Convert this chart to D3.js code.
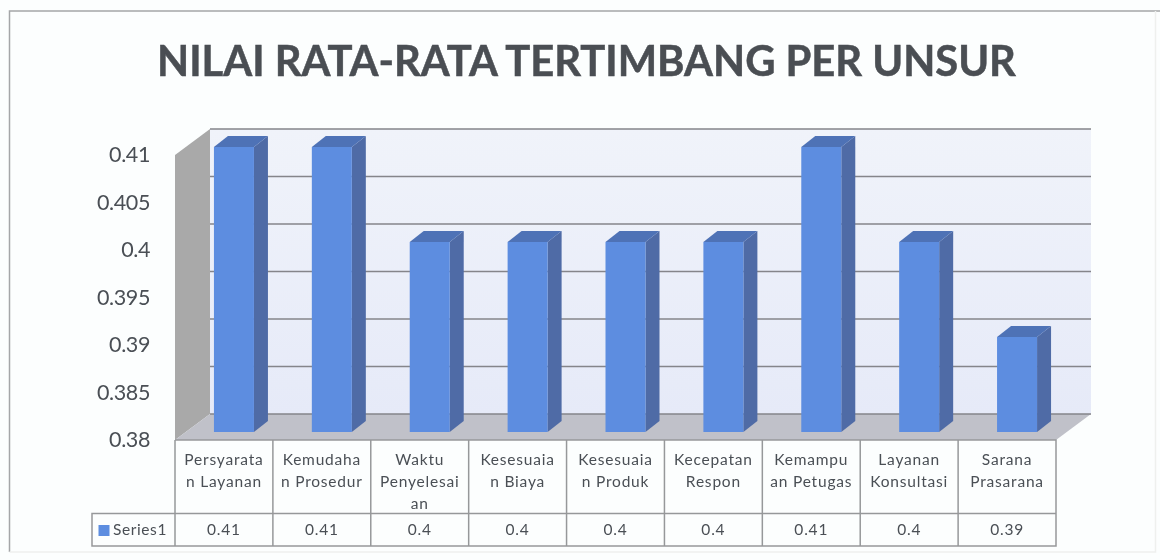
<!DOCTYPE html>
<html>
<head>
<meta charset="utf-8">
<script src="https://cdn.jsdelivr.net/npm/d3@7"></script>
<style>
    html, body { margin: 0; padding: 0; background: #fff; }
    svg { display: block; filter: blur(0.6px); }
</style>
</head>
<body>
<div id="app"></div>
<script>
const categories = [
    ['Persyarata', 'n Layanan'],
    ['Kemudaha', 'n Prosedur'],
    ['Waktu', 'Penyelesai', 'an'],
    ['Kesesuaia', 'n Biaya'],
    ['Kesesuaia', 'n Produk'],
    ['Kecepatan', 'Respon'],
    ['Kemampu', 'an Petugas'],
    ['Layanan', 'Konsultasi'],
    ['Sarana', 'Prasarana'],
];
const values = [0.41, 0.41, 0.4, 0.4, 0.4, 0.4, 0.41, 0.4, 0.39];
const yTicks = [0.38, 0.385, 0.39, 0.395, 0.4, 0.405, 0.41];
const seriesName = 'Series1';
const title = 'NILAI RATA-RATA TERTIMBANG PER UNSUR';

const width = 1160;
const height = 560;
const font = 'Lato, "Open Sans", sans-serif';
const ink = '#4a4f55';
const gridColor = '#85858a';

// 3D look: the back wall sits up and to the right of the front plane
const depth = { x: 35, y: -26 };
const barDepth = { x: 14, y: -11 };
const barShift = { x: 17, y: -8 };

const svg = d3.select('#app').append('svg')
    .attr('width', width)
    .attr('height', height)
    .attr('viewBox', `0 0 ${width} ${height}`)
    .style('background-color', '#fcfefe');

const defs = svg.append('defs');
const wallGrad = defs.append('linearGradient')
    .attr('id', 'wall')
    .attr('x1', 0).attr('y1', 0).attr('x2', 0).attr('y2', 1);
wallGrad.append('stop').attr('offset', '0%').attr('stop-color', '#f0f3fa');
wallGrad.append('stop').attr('offset', '100%').attr('stop-color', '#e6eaf8');

const xScale = d3.scaleBand()
    .domain(d3.range(categories.length))
    .range([175, 1056]);

const yScale = d3.scaleLinear()
    .domain([0.38, 0.41])
    .range([440, 155]);

const x0 = xScale.range()[0];
const x1 = xScale.range()[1];
const yBase = yScale(0.38);
const yTop = yScale(0.41);

// Chart frame, right and bottom edges are nearly lost in the scan
svg.append('path')
    .attr('d', 'M9.5,552V11H1160')
    .attr('fill', 'none')
    .attr('stroke', '#a4a6a8')
    .attr('stroke-width', 1.5);
svg.append('path')
    .attr('d', 'M9.5,552H1155.5V11')
    .attr('fill', 'none')
    .attr('stroke', '#eef0ee')
    .attr('stroke-width', 1.5);

// Title
svg.append('text')
    .attr('x', 586.5)
    .attr('y', 76)
    .attr('text-anchor', 'middle')
    .attr('font-family', font)
    .attr('font-weight', 700)
    .attr('font-size', '41.7px')
    .attr('fill', '#4a4e53')
    .attr('stroke', '#4a4e53')
    .attr('stroke-width', 0.5)
    .text(title);

// Back wall
svg.append('rect')
    .attr('x', x0 + depth.x)
    .attr('y', yTop + depth.y)
    .attr('width', x1 - x0)
    .attr('height', yBase - yTop)
    .attr('fill', 'url(#wall)');

// Left wall
svg.append('path')
    .attr('d', d3.line()([
        [x0, yTop], [x0 + depth.x, yTop + depth.y],
        [x0 + depth.x, yBase + depth.y], [x0, yBase],
    ]) + 'Z')
    .attr('fill', '#a9a9a9');

// Floor
svg.append('path')
    .attr('d', d3.line()([
        [x0, yBase], [x1, yBase],
        [x1 + depth.x, yBase + depth.y], [x0 + depth.x, yBase + depth.y],
    ]) + 'Z')
    .attr('fill', '#c0c1c9');

// Gridlines
svg.append('g')
    .selectAll('line')
    .data(yTicks)
    .join('line')
    .attr('x1', x0 + depth.x)
    .attr('x2', x1 + depth.x)
    .attr('y1', d => yScale(d) + depth.y)
    .attr('y2', d => yScale(d) + depth.y)
    .attr('stroke', gridColor)
    .attr('stroke-width', 1.5);

// Bars
const barWidth = 40;
const bars = svg.append('g')
    .selectAll('g')
    .data(values)
    .join('g')
    .attr('transform', (d, i) => {
        const bx = xScale(i) + (xScale.bandwidth() - barWidth - barDepth.x) / 2 + barShift.x;
        return `translate(${bx}, ${barShift.y})`;
    });

bars.append('path')
    .attr('d', d => d3.line()([
        [barWidth, yScale(d)], [barWidth + barDepth.x, yScale(d) + barDepth.y],
        [barWidth + barDepth.x, yBase + barDepth.y], [barWidth, yBase],
    ]) + 'Z')
    .attr('fill', '#4f6ba6');

bars.append('path')
    .attr('d', d => d3.line()([
        [0, yScale(d)], [barDepth.x, yScale(d) + barDepth.y],
        [barWidth + barDepth.x, yScale(d) + barDepth.y], [barWidth, yScale(d)],
    ]) + 'Z')
    .attr('fill', '#4e72b6');

bars.append('rect')
    .attr('x', 0)
    .attr('y', d => yScale(d))
    .attr('width', barWidth)
    .attr('height', d => yBase - yScale(d))
    .attr('fill', '#5d8de0');

// Y axis labels
const yAxis = svg.append('g')
    .attr('transform', `translate(150, 0)`)
    .call(d3.axisLeft(yScale).tickValues(yTicks).tickSize(0).tickFormat(d3.format('~g')));
yAxis.select('.domain').remove();
yAxis.selectAll('text')
    .attr('x', 0)
    .attr('font-family', font)
    .attr('font-size', '21.5px')
    .attr('letter-spacing', '-0.4px')
    .attr('fill', ink);

// Data table
const tableTop = yBase;
const rowSplit = 513.5;
const tableBottom = 546;
const keyLeft = 92;
const table = svg.append('g')
    .attr('stroke', '#96989a')
    .attr('stroke-width', 1.5)
    .attr('fill', 'none');

table.append('path')
    .attr('d', `M${x0},${tableTop}H${x1}V${tableBottom}H${keyLeft}V${rowSplit}H${x1}`);
table.selectAll('line')
    .data(d3.range(categories.length))
    .join('line')
    .attr('x1', d => xScale(d))
    .attr('x2', d => xScale(d))
    .attr('y1', tableTop)
    .attr('y2', tableBottom);

const cells = svg.append('g')
    .attr('font-family', font)
    .attr('font-size', '15.5px')
    .attr('letter-spacing', '0.8px')
    .attr('fill', ink)
    .attr('text-anchor', 'middle');

cells.selectAll('text.cat')
    .data(categories)
    .join('text')
    .attr('class', 'cat')
    .attr('transform', (d, i) => `translate(${xScale(i) + xScale.bandwidth() / 2}, 465)`)
    .selectAll('tspan')
    .data(d => d)
    .join('tspan')
    .attr('x', 0)
    .attr('dy', (d, i) => i ? 22 : 0)
    .text(d => d);

cells.selectAll('text.val')
    .data(values)
    .join('text')
    .attr('class', 'val')
    .attr('x', (d, i) => xScale(i) + xScale.bandwidth() / 2)
    .attr('y', 535)
    .text(d => d);

// Legend key in the table
svg.append('rect')
    .attr('x', 98.5).attr('y', 525)
    .attr('width', 11).attr('height', 11)
    .attr('fill', '#5d8de0');
svg.append('text')
    .attr('x', 113)
    .attr('y', 535)
    .attr('font-family', font)
    .attr('font-size', '15.5px')
    .attr('letter-spacing', '0.6px')
    .attr('fill', ink)
    .text(seriesName);
</script>
</body>
</html>
